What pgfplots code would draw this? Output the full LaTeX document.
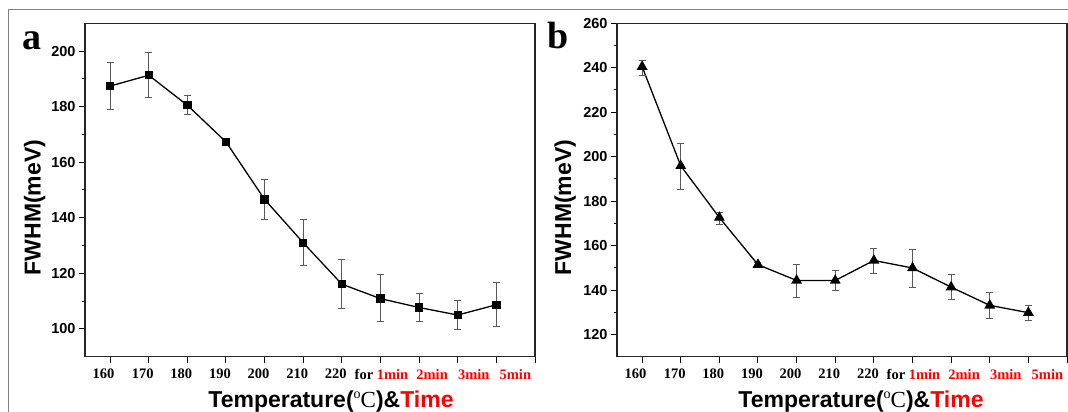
\documentclass[border=0pt]{standalone}
\usepackage{fontspec}
\setmainfont{Liberation Serif}
\setsansfont{Liberation Sans}
\usepackage{pgfplots}
\pgfplotsset{compat=1.18}
\pgfplotstableread{
x y ep em
0 187.4 8.4 8.3
1 191.3 8.2 8.1
2 180.5 3.4 3.2
3 167.3 1.3 1.4
4 146.6 7.1 7.2
5 131.0 8.3 8.3
6 116.1 8.9 8.6
7 110.9 8.6 8.4
8 107.7 5.2 5.2
9 105.0 5.1 5.1
10 108.7 8.0 8.0
}\dataA
\pgfplotstableread{
x y ep em
0 240.5 2.8 4.2
1 195.9 10.0 10.6
2 172.6 2.2 3.0
3 151.4 1.2 1.4
4 144.3 7.4 7.5
5 144.3 4.4 4.5
6 153.3 5.5 5.7
7 149.9 8.3 8.7
8 141.3 5.6 5.7
9 133.1 5.7 5.9
10 129.8 3.3 3.5
}\dataB
\pgfplotsset{
  myax/.style={
    at={(#1pt,55.3pt)}, anchor=south west, scale only axis,
    width=450pt, height=333.4pt,
    xmin=-0.65, xmax=11, xtick={0,...,11},
    xticklabels={{\hspace*{-13pt}160},{\hspace*{-12pt}170},{\hspace*{-12pt}180},{\hspace*{-12pt}190},{\hspace*{-12pt}200},{\hspace*{-12pt}210},{\hspace*{-12pt}220},{\hspace*{2pt}for \textcolor{red}{1min}},{\hspace*{26pt}\textcolor{red}{2min}},{\hspace*{32pt}\textcolor{red}{3min}},{\hspace*{38pt}\textcolor{red}{5min}},{}},
    axis line style={line width=1.2pt, black!85},
    tick style={line width=1pt, black},
    major tick length=6pt, minor tick length=3.5pt,
    tick align=outside, xtick pos=bottom, ytick pos=left,
    minor y tick num=1,
    yticklabel style={font=\sffamily\bfseries\fontsize{14.5}{14.5}\selectfont},
    xticklabel style={font=\rmfamily\bfseries\fontsize{14.5}{14.5}\selectfont, yshift=-3pt},
    /pgf/number format/assume math mode=true,
    clip=false,
  },
  myplot/.style n args={2}{black, line width=1.3pt, mark=#1,
    mark options={black, mark size=#2, solid},
    error bars/y dir=both, error bars/y explicit,
    error bars/error bar style={black!65, line width=1pt},
    error bars/error mark options={rotate=90, mark size=3.5pt, black!65, line width=1pt}},
}
\begin{document}
\begin{tikzpicture}
\path[use as bounding box] (0pt,0pt) rectangle (1068pt,412pt);
\draw[gray, line width=0.8pt] (8pt,0pt) -- (8pt,403pt) -- (1068pt,403pt);

\begin{axis}[myax=85, ymin=90, ymax=210, ytick={100,120,...,200}]
\addplot+[myplot={square*}{3.5pt}]
  table[x=x, y=y, y error plus=ep, y error minus=em] {\dataA};
\end{axis}

\begin{axis}[myax=617, ymin=110, ymax=260, ytick={120,140,...,260}]
\addplot+[myplot={triangle*}{5pt}]
  table[x=x, y=y, y error plus=ep, y error minus=em] {\dataB};
\end{axis}

\node[anchor=base west, inner sep=0pt] at (22pt,362pt) {\fontsize{38}{38}\selectfont\bfseries a};
\node[anchor=base west, inner sep=0pt] at (547pt,363pt) {\fontsize{38}{38}\selectfont\bfseries b};

\node[rotate=90, anchor=base, inner sep=0pt] at (40.5pt,204.5pt) {\sffamily\bfseries\fontsize{23}{23}\selectfont FWHM(meV)};
\node[rotate=90, anchor=base, inner sep=0pt] at (571pt,204.5pt) {\sffamily\bfseries\fontsize{23}{23}\selectfont FWHM(meV)};

\node[anchor=base, inner sep=0pt] at (331pt,4pt) {\sffamily\bfseries\fontsize{23}{23}\selectfont Temperature(\raisebox{9pt}{\rmfamily\mdseries\fontsize{14}{14}\selectfont o}{\rmfamily\mdseries C})\&\textcolor{red}{Time}};
\node[anchor=base, inner sep=0pt] at (861pt,4pt) {\sffamily\bfseries\fontsize{23}{23}\selectfont Temperature(\raisebox{9pt}{\rmfamily\mdseries\fontsize{14}{14}\selectfont o}{\rmfamily\mdseries C})\&\textcolor{red}{Time}};
\end{tikzpicture}
\end{document}
